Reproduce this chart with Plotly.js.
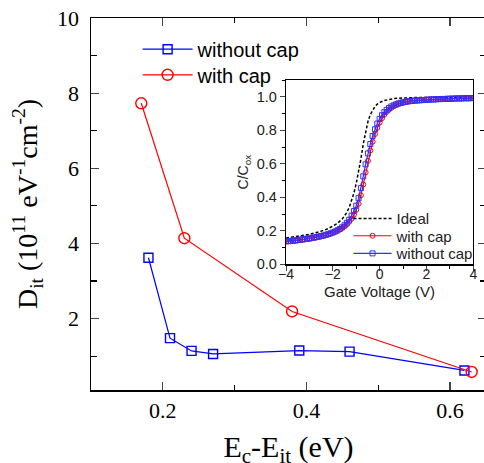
<!DOCTYPE html>
<html>
<head>
<meta charset="utf-8">
<script src="https://cdn.plot.ly/plotly-3.0.1.min.js"></script>
<style>
html,body{margin:0;padding:0;overflow:hidden;background:#fff;}
#chart{width:490px;height:478px;}
</style>
</head>
<body>
<div id="chart"></div>
<script>
// Main plot data
const noCapX = [0.18, 0.21, 0.24, 0.27, 0.39, 0.46, 0.62];
const noCapY = [3.62, 1.48, 1.14, 1.06, 1.15, 1.12, 0.62];
const capX = [0.17, 0.23, 0.38, 0.63];
const capY = [7.73, 4.14, 2.19, 0.58];

// Inset C-V data
const vGate = [-4.0,-3.9,-3.8,-3.7,-3.6,-3.5,-3.4,-3.3,-3.2,-3.1,-3.0,-2.9,-2.8,-2.7,-2.6,-2.5,-2.4,-2.3,-2.2,-2.1,-2.0,-1.9,-1.8,-1.7,-1.6,-1.5,-1.4,-1.3,-1.2,-1.1,-1.0,-0.9,-0.8,-0.7,-0.6,-0.5,-0.4,-0.3,-0.2,-0.1,0.0,0.1,0.2,0.3,0.4,0.5,0.6,0.7,0.8,0.9,1.0,1.1,1.2,1.3,1.4,1.5,1.6,1.7,1.8,1.9,2.0,2.1,2.2,2.3,2.4,2.5,2.6,2.7,2.8,2.9,3.0,3.1,3.2,3.3,3.4,3.5,3.6,3.7,3.8,3.9,4.0];
const cvNoCap = [0.138,0.139,0.140,0.142,0.143,0.145,0.147,0.149,0.151,0.153,0.155,0.158,0.160,0.163,0.166,0.169,0.172,0.176,0.180,0.185,0.190,0.196,0.203,0.211,0.221,0.233,0.248,0.266,0.290,0.318,0.350,0.395,0.455,0.525,0.597,0.662,0.718,0.766,0.806,0.840,0.868,0.890,0.908,0.922,0.933,0.942,0.949,0.955,0.960,0.964,0.967,0.970,0.972,0.974,0.976,0.977,0.978,0.979,0.980,0.981,0.982,0.983,0.984,0.984,0.985,0.986,0.986,0.987,0.987,0.988,0.988,0.989,0.989,0.990,0.990,0.990,0.991,0.991,0.991,0.992,0.992];
const cvCap = [0.135,0.136,0.137,0.139,0.140,0.142,0.144,0.146,0.148,0.150,0.152,0.155,0.157,0.160,0.163,0.166,0.170,0.174,0.178,0.183,0.188,0.194,0.200,0.208,0.217,0.227,0.239,0.254,0.272,0.296,0.325,0.362,0.412,0.476,0.548,0.617,0.679,0.732,0.777,0.815,0.846,0.872,0.893,0.910,0.923,0.934,0.943,0.950,0.956,0.961,0.965,0.968,0.971,0.973,0.975,0.977,0.978,0.979,0.980,0.981,0.982,0.983,0.984,0.985,0.985,0.986,0.987,0.987,0.988,0.988,0.989,0.989,0.990,0.990,0.991,0.991,0.991,0.992,0.992,0.992,0.993];
const vIdeal = [-4.0,-3.8,-3.6,-3.4,-3.2,-3.0,-2.8,-2.6,-2.4,-2.2,-2.0,-1.8,-1.6,-1.5,-1.4,-1.3,-1.2,-1.1,-1.0,-0.9,-0.8,-0.7,-0.6,-0.5,-0.4,-0.3,-0.2,-0.1,0.0,0.2,0.4,0.6,0.8,1.0,1.5,2.0,3.0,4.0];
const cvIdeal = [0.157,0.161,0.165,0.169,0.174,0.179,0.186,0.193,0.202,0.213,0.227,0.245,0.270,0.287,0.310,0.340,0.378,0.425,0.482,0.550,0.630,0.718,0.795,0.852,0.893,0.922,0.942,0.956,0.966,0.978,0.985,0.989,0.991,0.993,0.995,0.996,0.997,0.997];

const serif = 'Liberation Serif, Times New Roman, serif';
const sans = 'Liberation Sans, Arial, sans-serif';
const BLUE = '#0000ff', RED = '#ff0000', IBLUE = '#3030ff';

const traces = [
  {x: noCapX, y: noCapY, name: 'without cap', mode: 'lines+markers', type: 'scatter',
   line: {color: BLUE, width: 1.2},
   marker: {symbol: 'square-open', size: 9, color: BLUE, line: {width: 1.4, color: BLUE}},
   legend: 'legend'},
  {x: capX, y: capY, name: 'with cap', mode: 'lines+markers', type: 'scatter',
   line: {color: RED, width: 1.2},
   marker: {symbol: 'circle-open', size: 11, color: RED, line: {width: 1.4, color: RED}},
   legend: 'legend3'},
  {x: vIdeal, y: cvIdeal, name: 'Ideal', mode: 'lines', type: 'scatter', xaxis: 'x2', yaxis: 'y2',
   line: {color: '#000', width: 1.5, dash: '3px,2px'}, legend: 'legend2'},
  {x: vGate, y: cvCap, name: 'with cap', mode: 'lines+markers', type: 'scatter', xaxis: 'x2', yaxis: 'y2',
   line: {color: RED, width: 1.2},
   marker: {symbol: 'circle-open', size: 5, color: RED, line: {width: 1, color: RED}}, legend: 'legend4'},
  {x: vGate, y: cvNoCap, name: 'without cap', mode: 'lines+markers', type: 'scatter', xaxis: 'x2', yaxis: 'y2',
   line: {color: IBLUE, width: 1.2},
   marker: {symbol: 'square-open', size: 5, color: IBLUE, line: {width: 1, color: IBLUE}}, legend: 'legend5'}
];

const bigLegend = (y) => ({x: 0.118, y: y, xanchor: 'left', yanchor: 'top', bgcolor: 'rgba(0,0,0,0)',
  font: {family: sans, size: 20, color: '#000'}, itemwidth: 50, tracegroupgap: 0});
const smallLegend = (y) => ({x: 0.652, y: y, xanchor: 'left', yanchor: 'top', bgcolor: 'rgba(0,0,0,0)',
  font: {family: sans, size: 15, color: '#222'}, itemwidth: 38, tracegroupgap: 0});

const layout = {
  width: 490, height: 478,
  margin: {l: 91, r: 4, t: 18, b: 88},
  paper_bgcolor: '#fff', plot_bgcolor: '#fff',
  showlegend: true,
  xaxis: {
    range: [0.1, 0.65], dtick: 0.2, tick0: 0, ticks: 'inside', ticklen: 8, tickwidth: 1.2,
    minor: {dtick: 0.1, ticks: 'inside', ticklen: 5, tickwidth: 1.2, tickcolor: '#000'},
    showline: true, linecolor: '#000', linewidth: 1.5, mirror: 'ticks', showgrid: false, zeroline: false,
    tickfont: {family: serif, size: 22, color: '#000'}, tickformat: '.1f',
    title: {text: 'E<sub>c</sub>-E<sub>it</sub> (eV)', font: {family: serif, size: 30, color: '#000'}, standoff: 14}
  },
  yaxis: {
    range: [0.1, 10], tickvals: [2, 4, 6, 8, 10], ticks: 'inside', ticklen: 8, tickwidth: 1.2,
    minor: {tickvals: [1, 3, 5, 7, 9], ticks: 'inside', ticklen: 6, tickwidth: 1.2, tickcolor: '#000'},
    showline: true, linecolor: '#000', linewidth: 1.5, mirror: 'ticks', showgrid: false, zeroline: false,
    tickfont: {family: serif, size: 22, color: '#000'}, ticklabelstandoff: 6,
    title: {text: 'D<sub>it</sub> (10<sup>11</sup> eV<sup>-1</sup>cm<sup>-2</sup>)', font: {family: serif, size: 28, color: '#000'}, standoff: 11}
  },
  xaxis2: {
    domain: [0.4937, 0.9678], anchor: 'y2', range: [-4, 4], dtick: 2, ticks: 'outside', ticklen: 5, tickwidth: 1,
    minor: {dtick: 1, ticks: 'outside', ticklen: 3, tickwidth: 1, tickcolor: '#000'},
    showline: true, linecolor: '#000', linewidth: 1.2, mirror: true, showgrid: false, zeroline: false,
    tickfont: {family: sans, size: 14, color: '#222'}, ticklabelstandoff: -8
  },
  yaxis2: {
    domain: [0.3379, 0.8333], anchor: 'x2', range: [0, 1.1], dtick: 0.2, ticks: 'outside', ticklen: 5, tickwidth: 1,
    minor: {dtick: 0.1, ticks: 'outside', ticklen: 3, tickwidth: 1, tickcolor: '#000'},
    showline: true, linecolor: '#000', linewidth: 1.2, mirror: true, showgrid: false, zeroline: false,
    tickfont: {family: sans, size: 14.5, color: '#222'}, tickformat: '.1f',
    title: {text: 'C/C<sub>ox</sub>', font: {family: sans, size: 14, color: '#222'}, standoff: 4}
  },
  annotations: [{text: 'Gate Voltage (V)', xref: 'x2 domain', x: 0.5, yref: 'paper', y: 0.265,
                 xanchor: 'center', yanchor: 'middle', showarrow: false,
                 font: {family: sans, size: 15, color: '#222'}}],
  shapes: [{type: 'rect', xref: 'x2 domain', yref: 'y2 domain', x0: 0, x1: 1, y0: 0, y1: 1,
            fillcolor: '#fff', line: {width: 0}, layer: 'below'}],
  legend: bigLegend(0.9685),
  legend3: bigLegend(0.8997),
  legend2: smallLegend(0.5046),
  legend4: smallLegend(0.4584),
  legend5: smallLegend(0.4110)
};

Plotly.newPlot('chart', traces, layout, {displayModeBar: false, staticPlot: true});
</script>
</body>
</html>
